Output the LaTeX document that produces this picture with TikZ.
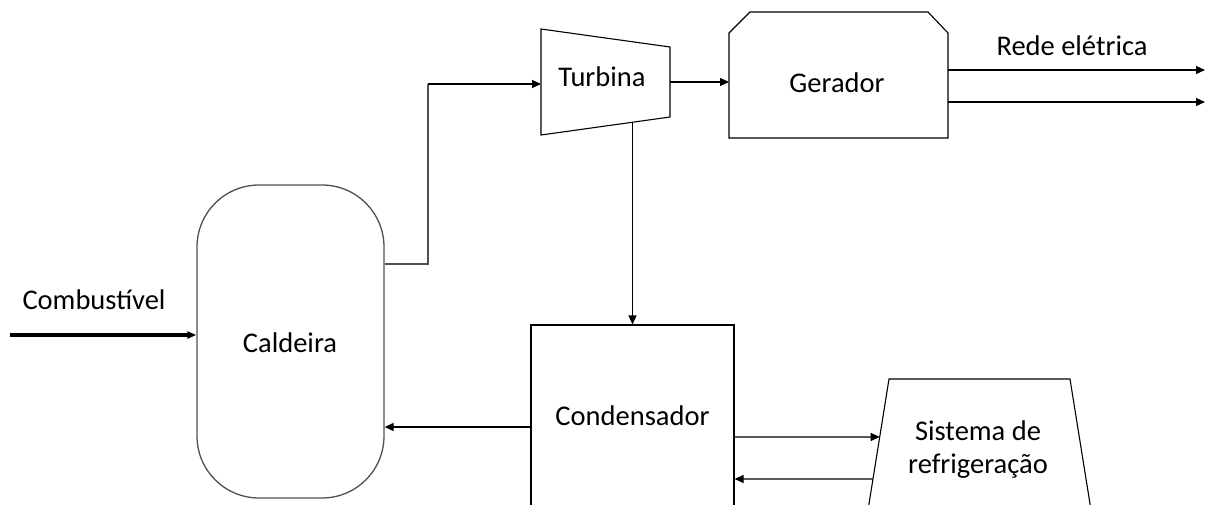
\documentclass[tikz,border=0pt]{standalone}
\usepackage{fontspec}
\setmainfont{Carlito}
\usetikzlibrary{arrows.meta,calc}
\definecolor{edge}{RGB}{80,80,80}
\tikzset{
  unit/.style={draw=black, line width=1.1pt},
  vessel/.style={draw=edge, line width=1.3pt},
  flow/.style={draw=black, line width=1.1pt, -{Triangle[length=9pt,width=8pt]}},
  pipe/.style={draw=edge, line width=1.3pt},
  fuelflow/.style={draw=black, line width=4pt, -{Triangle[length=9pt,width=7pt]}},
  lbl/.style={font=\fontsize{28.5}{33}\selectfont, inner sep=0pt, align=center},
}
\begin{document}
\begin{tikzpicture}[x=1pt,y=-1pt]
\useasboundingbox (0,0) rectangle (1208,504);
\clip (0,0) rectangle (1208,504);

% Boiler
\node[vessel, rounded corners=62pt, minimum width=187pt, minimum height=313pt, inner sep=0pt]
  (cald) at (290.5,341.5) {};
\node[lbl] (caldtxt) at (290,343) {Caldeira};

% Turbine (trapezoid)
\coordinate (tA) at (541,29);
\coordinate (tB) at (670,47);
\coordinate (tC) at (670,117);
\coordinate (tD) at (541,135);
\draw[unit] (tA) -- (tB) -- (tC) -- (tD) -- cycle;
\node[lbl] (turb) at (602,77) {Turbina};
\coordinate (tOut) at (632.5,122.2);

% Generator (chamfered box)
\coordinate (gA) at (729,33);
\coordinate (gB) at (750,12);
\coordinate (gC) at (928,12);
\coordinate (gD) at (948,33);
\coordinate (gE) at (948,138);
\coordinate (gF) at (729,138);
\draw[unit] (gA) -- (gB) -- (gC) -- (gD) -- (gE) -- (gF) -- cycle;
\node[lbl] (gen) at (837,83) {Gerador};

% Condenser
\node[unit, minimum width=203pt, minimum height=182pt, inner sep=0pt]
  (cond) at (632.5,416) {};
\node[lbl] (condtxt) at (632.5,416) {Condensador};

% Cooling system (trapezoid running off the bottom)
\coordinate (sA) at (889,379);
\coordinate (sB) at (1070,379);
\coordinate (sC) at (1092.6,520);
\coordinate (sD) at (866.4,520);
\draw[unit] (sD) -- (sA) -- (sB) -- (sC);
\node[lbl] (sist) at (978,450) {Sistema de\\refrigeração};

% Fuel input
\coordinate (fuel) at (10,335);
\draw[fuelflow] (fuel) -- (fuel -| cald.west);
\node[lbl] (fueltxt) at (94,300) {Combustível};

% Steam from boiler to turbine
\draw[pipe] (cald.east |- 0,264) -- (428,264) -- (428,84);
\draw[flow] (428,84) -- (tA |- 0,84);

% Turbine shaft to generator
\draw[flow] (tB |- 0,82) -- (gA |- 0,82);

% Grid outputs
\coordinate (grid1) at (1205,70);
\coordinate (grid2) at (1205,102);
\draw[flow] (gD |- grid1) -- (grid1);
\draw[flow] (gD |- grid2) -- (grid2);
\node[lbl] (gridtxt) at (1072,46) {Rede elétrica};

% Exhaust steam to condenser
\draw[flow] (tOut) -- (cond.north);

% Condensate back to boiler
\draw[flow] (cond.west |- 0,427) -- (cald.east |- 0,427);

% Cooling loop
\draw[flow] (cond.east |- 0,437) -- ($(sA)!0.411!(sD)$);
\draw[flow] ($(sA)!0.709!(sD)$) -- (cond.east |- 0,479);
\end{tikzpicture}
\end{document}
